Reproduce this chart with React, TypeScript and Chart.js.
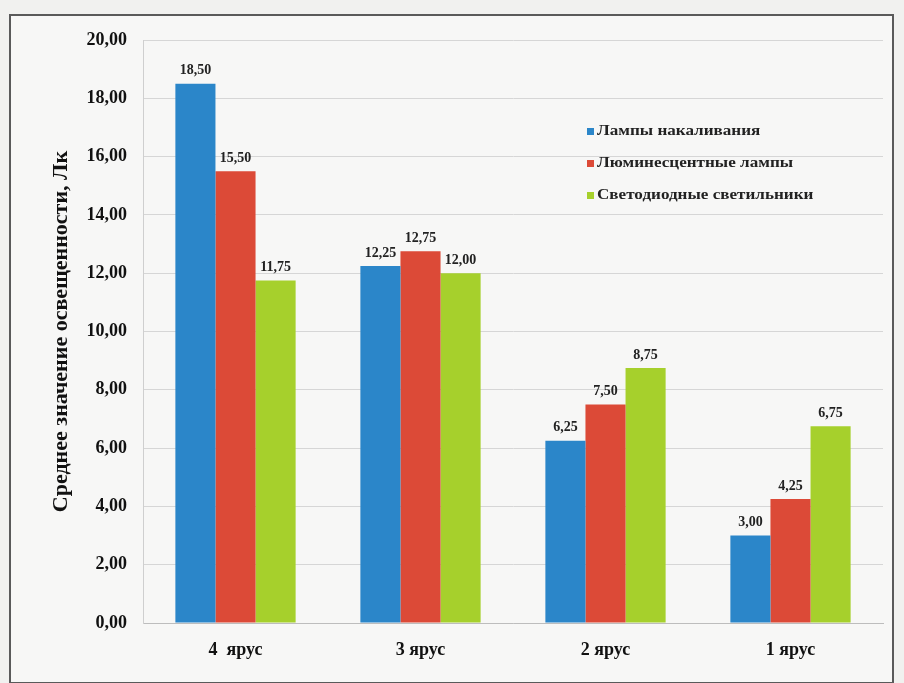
import React, { useEffect, useRef } from "react";
import { Chart, registerables } from "chart.js";

Chart.register(...registerables);

const categories = ["4  ярус", "3 ярус", "2 ярус", "1 ярус"];
const seriesNames = [
  "Лампы накаливания",
  "Люминесцентные лампы",
  "Светодиодные светильники",
];
const incandescent = [18.5, 12.25, 6.25, 3.0];
const fluorescent = [15.5, 12.75, 7.5, 4.25];
const led = [11.75, 12.0, 8.75, 6.75];
const seriesColors = ["#2b86c9", "#dc4a37", "#a6d02c"];
const yTitle = "Среднее значение освещенности, Лк";

const FONT = "'Liberation Serif', 'Times New Roman', serif";
const fmt = (v: number) => v.toFixed(2).replace(".", ",");

// Values printed above every bar
const valueLabels = {
  id: "valueLabels",
  afterDatasetsDraw(chart: any) {
    const ctx = chart.ctx;
    ctx.save();
    ctx.font = `bold 14px ${FONT}`;
    ctx.fillStyle = "#222";
    ctx.textAlign = "center";
    ctx.textBaseline = "bottom";
    chart.data.datasets.forEach((ds: any, i: number) => {
      const meta = chart.getDatasetMeta(i);
      meta.data.forEach((bar: any, j: number) => {
        ctx.fillText(fmt(ds.data[j]), bar.x, bar.y - 6);
      });
    });
    ctx.restore();
  },
};

// Legend drawn inside the plot area, upper right; text slightly widened
const insideLegend = {
  id: "insideLegend",
  afterDraw(chart: any, _args: any, opts: any) {
    const ctx = chart.ctx;
    ctx.save();
    ctx.font = `bold 15px ${FONT}`;
    ctx.textBaseline = "middle";
    ctx.textAlign = "left";
    chart.data.datasets.forEach((ds: any, i: number) => {
      const y = opts.y + i * opts.gap;
      ctx.fillStyle = ds.backgroundColor;
      ctx.fillRect(opts.x, y - 3, 7, 7);
      ctx.fillStyle = "#222";
      ctx.save();
      ctx.translate(opts.x + 10, y);
      ctx.scale(opts.stretch, 1);
      ctx.fillText(ds.label, 0, 0);
      ctx.restore();
    });
    ctx.restore();
  },
};

export default function App() {
  const ref = useRef<HTMLCanvasElement | null>(null);

  useEffect(() => {
    if (!ref.current) return;
    const chart = new Chart(ref.current, {
      type: "bar",
      data: {
        labels: categories,
        datasets: [incandescent, fluorescent, led].map((d, i) => ({
          label: seriesNames[i],
          data: d,
          backgroundColor: seriesColors[i],
          borderWidth: 0,
          categoryPercentage: 0.65,
          barPercentage: 1.0,
        })),
      },
      options: {
        responsive: false,
        animation: false,
        layout: { padding: { left: 48, right: 21, top: 40, bottom: 0 } },
        plugins: {
          legend: { display: false },
          tooltip: { enabled: false },
          insideLegend: { x: 587, y: 131, gap: 32, stretch: 1.14 },
        } as any,
        scales: {
          x: {
            grid: { display: false, drawTicks: false },
            border: { display: true, color: "#bdbdbd", width: 1 },
            ticks: {
              color: "#111",
              padding: 17,
              font: { family: FONT, size: 18, weight: "bold" },
            },
            afterFit: (s: any) => {
              s.height = 60;
            },
          },
          y: {
            min: 0,
            max: 20,
            ticks: {
              stepSize: 2,
              color: "#111",
              padding: 16,
              font: { family: FONT, size: 18, weight: "bold" },
              callback: (v: any) => fmt(Number(v)),
            },
            grid: { color: "#d6d6d6", drawTicks: false },
            border: { display: true, color: "#cfcfcf", width: 1 },
            title: {
              display: true,
              text: yTitle,
              color: "#111",
              font: { family: FONT, size: 22, weight: "bold" },
              padding: 0,
            },
            afterFit: (s: any) => {
              s.width = 95;
            },
          },
        },
      },
      plugins: [valueLabels, insideLegend],
    });
    return () => chart.destroy();
  }, []);

  return (
    <div
      style={{
        position: "fixed",
        left: 0,
        top: 0,
        width: 904,
        height: 683,
        background: "#f1f1ef",
        overflow: "hidden",
      }}
    >
      <div
        style={{
          position: "absolute",
          left: 9,
          top: 14,
          width: 881,
          height: 666,
          border: "2px solid #5a5a5a",
          background: "#f7f7f6",
        }}
      />
      <canvas
        ref={ref}
        width={904}
        height={683}
        style={{ position: "absolute", left: 0, top: 0 }}
      />
    </div>
  );
}
